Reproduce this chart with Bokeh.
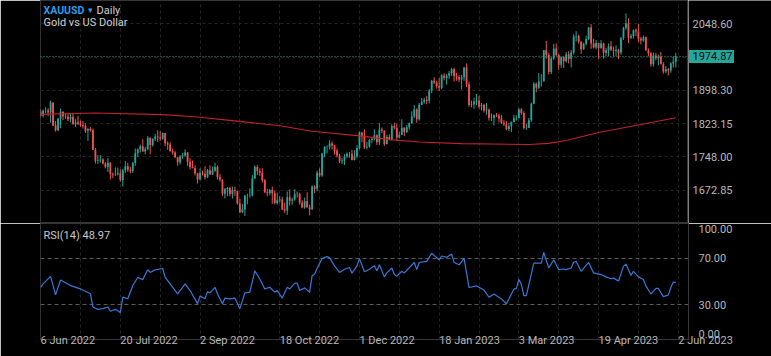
from bokeh.plotting import figure
from bokeh.layouts import column, row
from bokeh.models import Range1d, FixedTicker, Label, Span, ColumnDataSource
from bokeh.core.properties import value
from bokeh.embed import file_html
from bokeh.resources import INLINE

# ---------------- data ----------------
symbol = "XAUUSD"
interval = "Daily"
description = "Gold vs US Dollar"

opens = [1851,1841,1852,1853,1848,1871,1819,1808,1834,1850,
         1840,1839,1833,1838,1822,1826,1823,1820,1817,1807,
         1811,1808,1764,1739,1740,1742,1733,1725,1735,1710,
         1708,1709,1711,1696,1718,1727,1719,1717,1734,1756,
         1765,1772,1760,1765,1791,1775,1789,1794,1792,1789,
         1802,1779,1776,1761,1758,1747,1736,1749,1751,1758,
         1737,1725,1723,1711,1697,1712,1710,1702,1718,1708,
         1717,1725,1702,1697,1665,1675,1678,1664,1673,1671,
         1643,1623,1629,1660,1660,1661,1699,1725,1716,1712,
         1695,1668,1666,1673,1666,1644,1650,1652,1629,1627,
         1657,1649,1652,1665,1664,1645,1634,1648,1634,1630,
         1681,1676,1712,1706,1755,1771,1771,1778,1774,1762,
         1751,1738,1740,1749,1755,1755,1741,1749,1768,1803,
         1797,1769,1771,1786,1789,1797,1781,1810,1807,1777,
         1793,1788,1817,1814,1792,1798,1814,1804,1815,1824,
         1839,1855,1833,1866,1872,1877,1875,1898,1920,1916,
         1908,1904,1932,1926,1931,1937,1946,1930,1928,1923,
         1928,1950,1912,1865,1867,1873,1875,1862,1865,1853,
         1855,1836,1836,1842,1841,1835,1825,1822,1811,1817,
         1827,1836,1836,1855,1847,1813,1814,1831,1868,1913,
         1904,1918,1919,1989,1978,1940,1970,1993,1978,1956,
         1973,1964,1980,1969,1984,2020,2021,2008,1991,2003,
         2014,2040,2004,1995,2005,1994,2004,1983,1989,1998,
         1990,1988,1990,1983,2016,2039,2050,2017,2021,2034,
         2031,2015,2011,2018,1989,1982,1957,1977,1971,1975,
         1957,1941,1946,1943,1959,1963]

highs = [1855,1855,1860,1858,1875,1871,1829,1836,1857,1851,
         1846,1847,1847,1845,1833,1841,1830,1829,1824,1813,
         1815,1812,1768,1752,1752,1745,1736,1745,1736,1713,
         1724,1724,1720,1721,1739,1735,1726,1737,1767,1767,
         1776,1788,1771,1795,1792,1790,1800,1808,1806,1803,
         1802,1783,1781,1767,1761,1748,1752,1757,1765,1759,
         1745,1740,1729,1712,1722,1717,1727,1721,1729,1726,
         1735,1729,1709,1697,1678,1680,1681,1681,1681,1672,
         1653,1642,1662,1665,1677,1707,1729,1730,1722,1723,
         1698,1676,1676,1681,1672,1667,1660,1658,1645,1670,
         1675,1656,1675,1670,1667,1650,1656,1668,1640,1684,
         1684,1717,1722,1757,1772,1774,1786,1783,1775,1767,
         1755,1746,1754,1758,1759,1764,1763,1774,1805,1804,
         1810,1782,1789,1793,1810,1799,1824,1814,1808,1798,
         1799,1822,1825,1823,1804,1833,1815,1820,1826,1851,
         1865,1858,1870,1881,1882,1886,1901,1922,1928,1920,
         1926,1935,1937,1935,1942,1949,1949,1938,1933,1933,
         1951,1959,1918,1875,1882,1890,1886,1870,1868,1870,
         1857,1846,1844,1847,1845,1843,1831,1829,1824,1828,
         1843,1842,1858,1858,1851,1823,1836,1871,1917,1916,
         1937,1935,1989,2010,1983,1973,2003,2004,1980,1975,
         1975,1985,1987,1990,2025,2032,2024,2009,2006,2022,
         2041,2048,2015,2012,2005,2012,2006,1994,2004,2010,
         1997,2000,1992,2019,2042,2072,2061,2026,2036,2038,
         2048,2019,2022,2020,1993,1985,1984,1983,1979,1985,
         1962,1953,1949,1962,1975,1983]

lows = [1837,1837,1846,1840,1825,1818,1805,1806,1813,1831,
        1834,1829,1826,1821,1816,1820,1816,1812,1802,1784,
        1805,1764,1733,1732,1735,1731,1722,1714,1697,1700,
        1705,1706,1692,1681,1712,1714,1711,1712,1728,1748,
        1758,1760,1754,1763,1754,1771,1784,1782,1784,1787,
        1772,1764,1760,1753,1745,1728,1731,1744,1749,1727,
        1720,1722,1706,1688,1696,1706,1697,1700,1708,1707,
        1714,1697,1692,1660,1654,1659,1659,1654,1660,1640,
        1621,1621,1615,1641,1656,1659,1698,1707,1705,1690,
        1666,1659,1661,1642,1641,1640,1645,1628,1621,1617,
        1638,1640,1649,1656,1640,1632,1631,1634,1616,1628,
        1666,1671,1702,1703,1747,1756,1765,1765,1753,1747,
        1734,1732,1730,1746,1746,1740,1740,1745,1765,1781,
        1766,1765,1769,1779,1785,1775,1775,1802,1773,1776,
        1786,1785,1810,1784,1791,1797,1795,1802,1810,1823,
        1836,1825,1830,1865,1868,1867,1869,1892,1912,1902,
        1897,1901,1921,1911,1924,1931,1918,1920,1917,1900,
        1920,1906,1861,1860,1857,1865,1857,1853,1848,1843,
        1830,1829,1819,1838,1826,1822,1818,1808,1806,1804,
        1826,1830,1835,1843,1810,1809,1813,1827,1867,1894,
        1901,1907,1918,1970,1934,1935,1967,1976,1945,1949,
        1949,1961,1959,1950,1979,2009,2004,1981,1990,2000,
        2012,1992,1993,1991,1969,1992,1970,1976,1976,1987,
        1975,1976,1969,1979,2012,2035,2005,2014,2015,2021,
        2008,2002,2008,1987,1975,1952,1952,1966,1955,1957,
        1936,1937,1932,1938,1950,1950]

closes = [1841,1852,1853,1848,1871,1819,1808,1834,1850,1840,
          1839,1833,1838,1822,1826,1823,1820,1817,1807,1811,
          1808,1764,1739,1740,1742,1733,1725,1735,1710,1708,
          1709,1711,1696,1718,1727,1719,1717,1734,1756,1765,
          1772,1760,1765,1791,1775,1789,1794,1792,1789,1802,
          1779,1776,1761,1758,1747,1736,1749,1751,1758,1737,
          1725,1723,1711,1697,1712,1710,1702,1718,1708,1717,
          1725,1702,1697,1665,1675,1678,1664,1673,1671,1643,
          1623,1629,1660,1660,1661,1699,1725,1716,1712,1695,
          1668,1666,1673,1666,1644,1650,1652,1629,1627,1657,
          1649,1652,1665,1664,1645,1634,1648,1634,1630,1681,
          1676,1712,1706,1755,1771,1771,1778,1774,1762,1751,
          1738,1740,1749,1755,1755,1741,1749,1768,1803,1797,
          1769,1771,1786,1789,1797,1781,1810,1807,1777,1793,
          1788,1817,1814,1792,1798,1814,1804,1815,1824,1839,
          1855,1833,1866,1872,1877,1875,1898,1920,1916,1908,
          1904,1932,1926,1931,1937,1946,1930,1928,1923,1928,
          1950,1912,1865,1867,1873,1875,1862,1865,1853,1855,
          1836,1836,1842,1841,1835,1825,1822,1811,1817,1827,
          1836,1836,1855,1847,1813,1814,1831,1868,1913,1904,
          1918,1919,1989,1978,1940,1970,1993,1978,1956,1973,
          1964,1980,1969,1984,2020,2021,2008,1991,2003,2014,
          2040,2004,1995,2005,1994,2004,1983,1989,1998,1990,
          1988,1990,1983,2016,2039,2050,2017,2021,2034,2031,
          2015,2011,2018,1989,1982,1957,1977,1971,1975,1957,
          1941,1946,1943,1959,1963,1974.87]

# moving average (red line), bar index -> value
ma_idx = [0, 22, 49, 63, 76, 96, 109, 129, 140, 152, 169, 196, 204, 211, 224, 240, 255]
ma_val = [1844, 1847, 1843.5, 1838, 1830.5, 1818.5, 1806, 1795, 1787, 1781.5,
          1778, 1776, 1778.5, 1785, 1803, 1820, 1836.5]

# RSI(14), bar index -> value
rsi_idx = [0, 1, 4, 6, 8, 12, 16, 20, 21, 23, 25, 27, 28, 30, 32, 33, 35, 37, 39, 41,
           43, 44, 46, 49, 50, 52, 55, 57, 58, 60, 63, 64, 66, 67, 68, 70, 71, 73, 74, 76,
           78, 80, 82, 84, 86, 88, 90, 92, 94, 95, 97, 99, 100, 102, 103, 104, 106, 108, 109, 110,
           111, 113, 115, 116, 118, 120, 122, 124, 125, 127, 128, 130, 132, 134, 135,
           136, 138, 139, 141, 142, 143, 145, 146, 150, 151, 152, 155, 157, 160, 161, 163, 165,
           166, 168, 170, 172, 175, 178, 180, 182, 185, 187, 190, 191, 192, 193, 194, 195,
           198, 200, 201, 202, 204, 206, 208, 210, 211, 213, 214, 215, 217, 220, 222, 225,
           227, 229, 230, 232, 234, 235, 237, 238, 240, 242, 243, 245, 247, 248, 250, 252,
           253, 254, 255]
rsi_val = [45.0, 47.9, 54.4, 38.5, 51.3, 46.5, 43.6, 39.4, 28.0, 26.0, 26.6, 28.0, 24.3, 26.0, 23.2, 36.5, 35.1, 46.5, 53.5, 51.6,
           60.1, 57.8, 60.1, 61.2, 53.5, 47.9, 39.4, 45.0, 47.9, 42.2, 30.9, 37.4, 35.1, 41.3, 40.2, 45.0, 39.4, 30.9, 35.7, 35.1,
           35.7, 26.6, 40.2, 40.8, 59.2, 52.1, 43.6, 45.0, 40.8, 42.2, 35.7, 45.0, 43.6, 48.4, 48.7, 42.2, 44.5, 40.8, 55.0, 56.4,
           61.5, 69.7, 71.4, 70.6, 63.5, 57.8, 60.6, 62.1, 57.2, 63.5, 69.7, 58.4, 60.6, 63.5, 59.2,
           64.4, 54.0, 57.4, 61.6, 56.0, 54.6, 58.8, 57.4, 66.4, 60.2, 66.4, 67.3, 74.3, 68.7, 72.0, 70.8, 73.6,
           66.4, 64.4, 70.0, 44.8, 46.2, 42.6, 36.4, 39.2, 35.0, 30.8, 43.4, 44.1, 51.8, 47.6, 37.8, 37.8,
           65.8, 65.8, 65.8, 75.0, 61.6, 68.7, 60.2, 60.8, 60.2, 61.6, 66.6, 67.3, 58.8, 66.4, 57.4, 56.0,
           54.0, 52.4, 52.9, 50.4, 63.0, 65.0, 55.2, 58.8, 54.0, 51.8, 46.2, 39.2, 44.0, 44.0, 37.0, 38.4,
           44.8, 49.6, 48.97]

tick_idx = [0, 32, 64, 96, 128, 160, 192, 224, 256]
tick_labels = ["6 Jun 2022", "20 Jul 2022", "2 Sep 2022", "18 Oct 2022", "1 Dec 2022",
               "18 Jan 2023", "3 Mar 2023", "19 Apr 2023", "2 Jun 2023"]
price_grid = [1672.85, 1748.00, 1823.15, 1898.30, 1973.45, 2048.60]
last_price = 1974.87
rsi_levels = [30, 70]
rsi_axis_ticks = [4.5, 30, 70, 95.5]
rsi_axis_labels = ["0.00", "30.00", "70.00", "100.00"]
last_rsi = 48.97

# ---------------- styling ----------------
BG = "#000000"
UP = "#26a69a"
DOWN = "#ef5350"
GRID = "#262626"
BORDER = "#363636"
TXT = "#b8b8b8"
FONT = "Roboto"
LEFT, RIGHT = 40, 83
W = 771
H_MAIN, H_RSI, H_XAX = 223, 119, 14

idx = list(range(len(closes)))
colors = [UP if c >= o else DOWN for o, c in zip(opens, closes)]
src = ColumnDataSource(dict(
    x=idx, o=opens, h=highs, l=lows, c=closes,
    top=[max(o, c) for o, c in zip(opens, closes)],
    bot=[min(o, c) for o, c in zip(opens, closes)],
    col=colors))

x_range = Range1d(-0.05, 260.1)
y_main = Range1d(1597.6, 2101.2)
grid_x = list(range(0, 257, 16))


def base(fig):
    fig.background_fill_color = BG
    fig.border_fill_color = BG
    fig.outline_line_color = BORDER
    return fig


# ---- price panel ----
p = base(figure(width=W - RIGHT, height=H_MAIN, x_range=x_range, y_range=y_main,
                output_backend="svg", toolbar_location=None, x_axis_location=None,
                y_axis_location=None, min_border_left=LEFT, min_border_right=0,
                min_border_top=0, min_border_bottom=0))

p.segment(x0="x", y0="h", x1="x", y1="l", color="col", line_width=1, source=src)
p.vbar(x="x", width=0.72, top="top", bottom="bot", fill_color="col", line_color=None, source=src)
p.line(ma_idx, ma_val, line_color="#c0222b", line_width=1.1)
p.add_layout(Span(location=last_price, dimension="width", line_color=UP,
                  line_dash="1 2", line_width=1))

p.xgrid.ticker = FixedTicker(ticks=grid_x)
p.ygrid.ticker = FixedTicker(ticks=price_grid)
for g in (p.xgrid, p.ygrid):
    g.grid_line_color = GRID
    g.grid_line_dash = "3 3"

top_y = y_main.end
p.add_layout(Label(x=-0.05, y=top_y, x_offset=3, y_offset=-3, text=symbol,
                   text_baseline="top", text_color="#2f9be8", text_font=FONT,
                   text_font_size="10.5px", text_font_style="bold"))
p.add_layout(Label(x=-0.05, y=top_y, x_offset=47, y_offset=-4, text="▾",
                   text_baseline="top", text_color="#2f9be8", text_font=FONT,
                   text_font_size="9px"))
p.add_layout(Label(x=-0.05, y=top_y, x_offset=56, y_offset=-3, text=interval,
                   text_baseline="top", text_color="#d0d0d0", text_font=FONT,
                   text_font_size="11px"))
p.add_layout(Label(x=-0.05, y=top_y, x_offset=3, y_offset=-15, text=description,
                   text_baseline="top", text_color="#d0d0d0", text_font=FONT,
                   text_font_size="11px"))

# ---- price scale (right of the price panel), shares the price y-range ----
s = figure(width=RIGHT, height=H_MAIN, x_range=Range1d(0, RIGHT), y_range=y_main,
           output_backend="svg", toolbar_location=None, x_axis_location=None,
           y_axis_location=None, min_border_left=0, min_border_right=0,
           min_border_top=0, min_border_bottom=0, background_fill_color=BG,
           border_fill_color=BG, outline_line_color=None)
s.grid.visible = False
shown = [t for t in price_grid if abs(t - last_price) > 5]
s.text(x=[4] * len(shown), y=shown, text=[f"{t:.2f}" for t in shown],
       text_color=TXT, text_font=value(FONT), text_font_size="11px",
       text_align="left", text_baseline="middle")
s.rect(x=[23], y=[last_price], width=45, height=13, height_units="screen",
       fill_color=UP, line_color=None)
s.text(x=[4], y=[last_price], text=[f"{last_price:.2f}"], text_color="#0a0a0a",
       text_font=value(FONT), text_font_size="11px", text_align="left",
       text_baseline="middle")

# ---- RSI panel ----
r = base(figure(width=W, height=H_RSI + H_XAX, x_range=x_range, y_range=Range1d(0, 100),
                output_backend="svg", toolbar_location=None, x_axis_location="below",
                y_axis_location="right", min_border_left=LEFT, min_border_right=RIGHT,
                min_border_top=0, min_border_bottom=H_XAX))

r.line(rsi_idx, rsi_val, line_color="#3a78d8", line_width=1.2)

r.xgrid.ticker = FixedTicker(ticks=grid_x)
r.xgrid.grid_line_color = GRID
r.xgrid.grid_line_dash = "3 3"
r.ygrid.ticker = FixedTicker(ticks=rsi_levels)
r.ygrid.grid_line_color = "#5c5c5c"
r.ygrid.grid_line_dash = "4 3"

ry = r.yaxis[0]
ry.ticker = FixedTicker(ticks=rsi_axis_ticks)
ry.major_label_overrides = {t: s_ for t, s_ in zip(rsi_axis_ticks, rsi_axis_labels)}
ry.axis_line_color = None
ry.major_tick_line_color = None
ry.minor_tick_line_color = None
ry.major_label_text_color = TXT
ry.major_label_text_font = FONT
ry.major_label_text_font_size = "11px"
ry.major_label_standoff = 4

rx = r.xaxis[0]
rx.ticker = FixedTicker(ticks=tick_idx)
rx.major_label_overrides = {t: s_ for t, s_ in zip(tick_idx, tick_labels)}
rx.major_label_orientation = -0.0001
rx.axis_line_color = None
rx.major_tick_line_color = None
rx.major_tick_out = 0
rx.minor_tick_line_color = None
rx.major_label_text_color = TXT
rx.major_label_text_font = FONT
rx.major_label_text_font_size = "11px"
rx.major_label_standoff = 1

r.add_layout(Label(x=-0.05, y=100, x_offset=3, y_offset=-5, text=f"RSI(14) {last_rsi:.2f}",
                   text_baseline="top", text_color="#c8c8c8", text_font=FONT,
                   text_font_size="11px"))

layout = column(row(p, s, spacing=0), r, spacing=0)
open("out.html", "w").write(file_html(layout, INLINE))
